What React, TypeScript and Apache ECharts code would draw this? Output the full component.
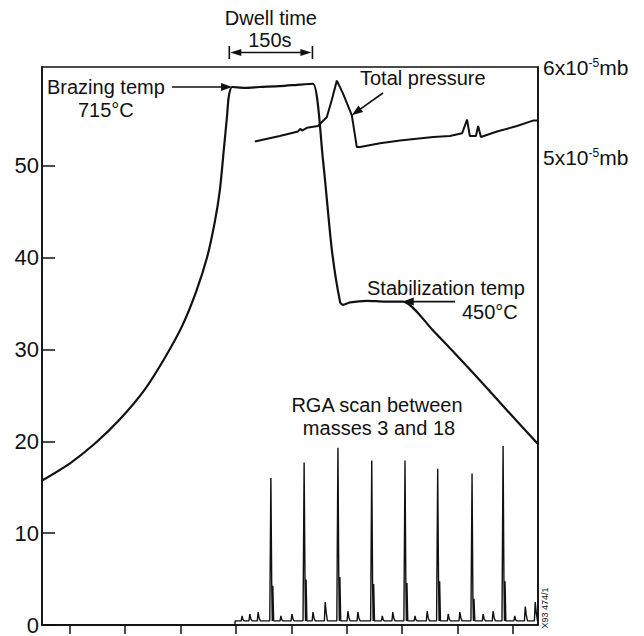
import React, { useEffect, useRef } from "react";
import * as echarts from "echarts";

const W = 644;
const H = 636;
const FONT = "'Liberation Sans', Arial, Helvetica, sans-serif";
const INK = "#111";

// ---- axes ----
const timeMax = 895; // s
const timeTicks = [50, 150, 250, 350, 450, 550, 650, 750, 850];

const leftAxisMax = 60.76;
const leftTicks = [0, 10, 20, 30, 40, 50];

const pressureMin = -0.143; // x10^-5 mb
const pressureMax = 6;
const pressureTicks = [5, 6];

const tempMin = 50.6; // °C (hidden scale)
const tempMax = 739.7;

// ---- temperature trace (°C) ----
const tempTime = [0, 50, 96, 141, 186, 222, 253, 278, 298, 312, 321, 328, 334, 337, 343, 366, 393, 429, 466, 489, 507, 523, 538, 543, 556, 586, 619, 651, 706, 790, 844, 895];
const tempValue = [229, 250, 275, 305, 342, 381, 420, 462, 505, 549, 588, 637, 680, 703, 715, 714, 715, 716, 718, 719, 625, 514, 449, 446, 449, 451, 450, 450, 414, 353, 312, 274];

// ---- total pressure trace (x10^-5 mb) ----
const pressureTime = [384, 429, 462, 466, 469, 478, 498, 514, 523, 532, 543, 559, 568, 574, 610, 646, 706, 736, 758, 767, 772, 783, 787, 792, 821, 857, 886, 895];
const pressureValue = [5.18, 5.24, 5.29, 5.32, 5.3, 5.33, 5.35, 5.45, 5.64, 5.85, 5.71, 5.47, 5.12, 5.12, 5.16, 5.19, 5.23, 5.24, 5.27, 5.42, 5.24, 5.24, 5.35, 5.23, 5.29, 5.35, 5.41, 5.41];

// ---- RGA scan ----
const rgaStartTime = 348;
const rgaBaseline = 0.45;
const rgaPeakTime = [413, 473, 534, 595, 655, 714, 776, 832];
const rgaPeakHeight = [16.0, 17.7, 19.3, 17.9, 17.9, 17.0, 16.5, 19.5];
const rgaShoulderHeight = [4.5, 5.2, 5.5, 4.7, 4.8, 5.0, 3.0, 5.0];
const rgaMinorTime = [361, 375, 390, 431, 451, 489, 511, 552, 570, 614, 633, 673, 695, 733, 754, 796, 814, 853, 872, 890];
const rgaMinorHeight = [1.0, 1.2, 1.4, 1.0, 1.2, 1.4, 2.5, 1.5, 1.4, 1.0, 1.4, 1.0, 1.5, 1.2, 1.4, 1.2, 1.5, 1.0, 2.0, 2.5];

// dwell window (s)
const dwellStart = 338;
const dwellEnd = 488;

function buildRga(): number[][] {
  const events: { t: number; major: boolean; h: number; s: number }[] = [];
  rgaPeakTime.forEach((t, i) => events.push({ t, major: true, h: rgaPeakHeight[i], s: rgaShoulderHeight[i] }));
  rgaMinorTime.forEach((t, i) => events.push({ t, major: false, h: rgaMinorHeight[i], s: 0 }));
  events.sort((a, b) => a.t - b.t);
  const b = rgaBaseline;
  const pts: number[][] = [[0, 0], [rgaStartTime, 0], [rgaStartTime + 0.5, b]];
  for (const e of events) {
    if (e.major) {
      pts.push([e.t - 2, b], [e.t, e.h], [e.t + 1.5, e.s], [e.t + 2.5, b], [e.t + 3.5, e.s * 0.95], [e.t + 5, b]);
    } else {
      pts.push([e.t - 1.5, b], [e.t, e.h], [e.t + 1.8, e.h * 0.55], [e.t + 4, b]);
    }
  }
  pts.push([timeMax, b]);
  return pts;
}

function txt(x: number, y: number, text: string, size = 20, align = "left", rotation = 0) {
  return {
    type: "text",
    x,
    y,
    rotation,
    z: 20,
    style: {
      text,
      fill: INK,
      fontSize: size,
      fontFamily: FONT,
      align,
      verticalAlign: "middle",
      textAlign: align,
      textVerticalAlign: "middle",
    },
  };
}
function seg(x1: number, y1: number, x2: number, y2: number, w = 1.6) {
  return { type: "line", z: 20, shape: { x1, y1, x2, y2 }, style: { stroke: INK, lineWidth: w } };
}
function head(tx: number, ty: number, fx: number, fy: number, len = 11, hw = 4) {
  const dx = tx - fx;
  const dy = ty - fy;
  const d = Math.hypot(dx, dy);
  const ux = dx / d;
  const uy = dy / d;
  const bx = tx - ux * len;
  const by = ty - uy * len;
  return {
    type: "polygon",
    z: 20,
    shape: { points: [[tx, ty], [bx - uy * hw, by + ux * hw], [bx + uy * hw, by - ux * hw]] },
    style: { fill: INK },
  };
}

export default function App() {
  const ref = useRef<HTMLDivElement>(null);
  useEffect(() => {
    const chart = echarts.init(ref.current!, null, { renderer: "svg" });
    const option: any = {
      animation: false,
      backgroundColor: "#fff",
      grid: { left: 42, right: 106, top: 67, bottom: 10, show: true, borderColor: INK, borderWidth: 1.6 },
      xAxis: {
        type: "value",
        min: 0,
        max: timeMax,
        axisLine: { show: true, lineStyle: { color: INK, width: 1.6 } },
        axisTick: { show: true, inside: false, length: 9, customValues: timeTicks, lineStyle: { color: INK, width: 1.5 } },
        axisLabel: { show: false },
        splitLine: { show: false },
      },
      yAxis: [
        {
          type: "value",
          position: "left",
          min: 0,
          max: leftAxisMax,
          axisLine: { show: true, lineStyle: { color: INK, width: 1.6 } },
          axisTick: { show: true, inside: true, length: 13, customValues: leftTicks, lineStyle: { color: INK, width: 1.5 } },
          axisLabel: { customValues: leftTicks, color: INK, fontSize: 22, fontFamily: FONT, margin: 3 },
          splitLine: { show: false },
        },
        {
          type: "value",
          position: "right",
          min: pressureMin,
          max: pressureMax,
          axisLine: { show: true, lineStyle: { color: INK, width: 1.6 } },
          axisTick: { show: false },
          axisLabel: {
            customValues: pressureTicks,
            margin: 5,
            formatter: (v: number) => `{n|${Math.round(v)}x10}{s|-5}{n|mb}`,
            rich: {
              n: { fontSize: 21, fontFamily: FONT, color: INK },
              s: { fontSize: 12, fontFamily: FONT, color: INK, verticalAlign: "top" },
            },
          },
          splitLine: { show: false },
        },
        { type: "value", show: false, min: tempMin, max: tempMax, splitLine: { show: false } },
      ],
      series: [
        {
          name: "RGA scan",
          type: "line",
          yAxisIndex: 0,
          data: buildRga(),
          symbol: "none",
          lineStyle: { color: INK, width: 1.4 },
          z: 3,
        },
        {
          name: "Temperature",
          type: "line",
          yAxisIndex: 2,
          data: tempTime.map((t, i) => [t, tempValue[i]]),
          symbol: "none",
          smooth: 0.25,
          lineStyle: { color: INK, width: 2.2 },
          z: 4,
        },
        {
          name: "Total pressure",
          type: "line",
          yAxisIndex: 1,
          data: pressureTime.map((t, i) => [t, pressureValue[i]]),
          symbol: "none",
          lineStyle: { color: INK, width: 2 },
          z: 4,
        },
      ],
    };
    chart.setOption(option);

    const px = (t: number, v: number, axis: number) =>
      chart.convertToPixel({ xAxisIndex: 0, yAxisIndex: axis }, [t, v]) as number[];
    const dA = px(dwellStart, 0, 0)[0];
    const dB = px(dwellEnd, 0, 0)[0];
    const braz = px(343, 715, 2);
    const stab = px(651, 450, 2);
    const pres = px(559, 5.47, 1);

    chart.setOption({
      graphic: [
        txt((dA + dB) / 2, 18, "Dwell time", 20, "center"),
        txt((dA + dB) / 2 - 1, 40, "150s", 20, "center"),
        seg(dA, 46, dA, 59),
        seg(dB, 46, dB, 59),
        seg(dA + 8, 52.5, dB - 8, 52.5),
        head(dA + 1, 52.5, dB, 52.5, 11, 3.5),
        head(dB - 1, 52.5, dA, 52.5, 11, 3.5),
        txt(47, 87, "Brazing temp"),
        txt(78, 110, "715°C"),
        seg(172, braz[1], braz[0] - 9, braz[1]),
        head(braz[0], braz[1], 172, braz[1]),
        txt(360, 78, "Total pressure"),
        seg(383, 93, pres[0] + 7, pres[1] - 5),
        head(pres[0], pres[1], 383, 93),
        txt(367, 288, "Stabilization temp"),
        txt(462, 312, "450°C"),
        seg(455, stab[1], stab[0] + 9, stab[1]),
        head(stab[0], stab[1], 455, stab[1]),
        txt(377, 405, "RGA scan between", 20, "center"),
        txt(379, 428, "masses 3 and 18", 20, "center"),
        txt(545, 608, "X93 474/1", 9, "center", Math.PI / 2),
      ],
    });
    return () => chart.dispose();
  }, []);
  return <div ref={ref} style={{ position: "fixed", left: 0, top: 0, width: W, height: H, background: "#fff" }} />;
}
